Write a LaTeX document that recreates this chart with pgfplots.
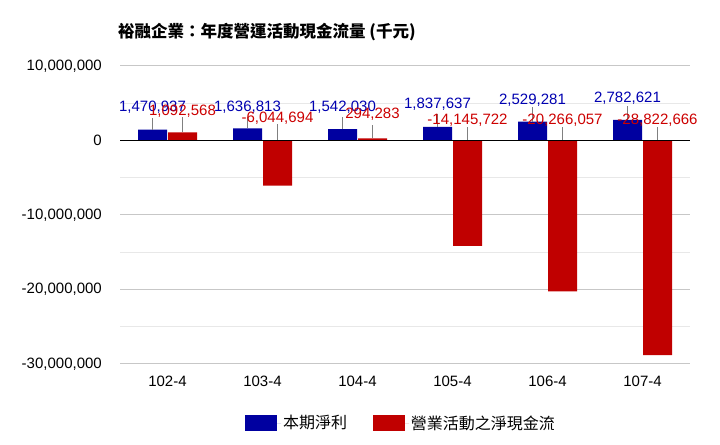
\documentclass[border=0pt]{standalone}
\usepackage{pgfplots}
\pgfplotsset{compat=1.18}
\usepackage{fontspec}
\setmainfont{Liberation Sans}
\newfontfamily\cjk{Noto Sans CJK TC}
\definecolor{barblue}{HTML}{0000A0}
\definecolor{barred}{HTML}{C00000}
\definecolor{lblblue}{HTML}{0000B0}
\definecolor{lblred}{HTML}{CC0000}
\newcommand\lbl{\fontsize{15bp}{18bp}\selectfont}

\begin{document}
\begin{tikzpicture}
\path[use as bounding box] (0,0) rectangle (720bp,445bp);
\begin{axis}[
    at={(120bp,81bp)}, anchor=south west,
    scale only axis, width=570bp, height=298bp,
    xmin=-0.5, xmax=5.5,
    ymin=-30000000, ymax=10000000,
    xtick={0,1,2,3,4,5},
    xticklabels={102-4,103-4,104-4,105-4,106-4,107-4},
    ytick={-30000000,-20000000,-10000000,0,10000000},
    minor ytick={-25000000,-15000000,-5000000,5000000},
    ymajorgrids, yminorgrids,
    major grid style={color=black!22, line width=1bp},
    minor grid style={color=black!9, line width=1bp},
    axis line style={draw=none},
    major tick length=0pt, minor tick length=0pt,
    scaled y ticks=false,
    yticklabel style={/pgf/number format/fixed, /pgf/number format/1000 sep={,},
        /pgf/number format/assume math mode=true},
    ticklabel style={font=\lbl, inner sep=0pt},
    yticklabel style={anchor=east, xshift=-18bp},
    xticklabel style={anchor=base, yshift=-23bp},
    title={\cjk\bfseries\fontsize{16.5bp}{20bp}\selectfont 裕融企業：年度營運活動現金流量 (千元)},
    title style={at={(0,1)}, anchor=west, inner sep=0pt, xshift=-2bp, yshift=28bp},
    legend image code/.code={\fill[#1] (0bp,-8bp) rectangle (32bp,8bp);
        \path (32bp,0bp) -- (36bp,0bp);},
    legend style={at={(0.493,-0.198)}, anchor=center, draw=none, fill=none,
        legend columns=2, font=\cjk\fontsize{16bp}{19bp}\selectfont,
        /tikz/every even column/.append style={column sep=24bp}},
]
\addplot[ybar, bar width=29bp, bar shift=-15bp, fill=barblue, draw=none]
    coordinates {(0,1470937)(1,1636813)(2,1542030)(3,1837637)(4,2529281)(5,2782621)};
\addlegendentry{本期淨利}
\addplot[ybar, bar width=29bp, bar shift=15bp, fill=barred, draw=none]
    coordinates {(0,1092568)(1,-6044694)(2,294283)(3,-14145722)(4,-20266057)(5,-28822666)};
\addlegendentry{營業活動之淨現金流}

% leader lines
\draw[gray] (axis cs:-0.158,1470937) -- (axis cs:-0.158,3000000);
\draw[gray] (axis cs:0.842,1636813) -- (axis cs:0.842,3200000);
\draw[gray] (axis cs:1.842,1542030) -- (axis cs:1.842,3150000);
\draw[gray] (axis cs:2.842,1837637) -- (axis cs:2.842,3600000);
\draw[gray] (axis cs:3.842,2529281) -- (axis cs:3.842,4500000);
\draw[gray] (axis cs:4.842,2782621) -- (axis cs:4.842,4650000);
\draw[gray] (axis cs:0.158,1092568) -- (axis cs:0.158,3150000);
\draw[gray] (axis cs:1.158,0) -- (axis cs:1.158,2200000);
\draw[gray] (axis cs:2.158,294283) -- (axis cs:2.158,2070000);
\draw[gray] (axis cs:3.158,0) -- (axis cs:3.158,1850000);
\draw[gray] (axis cs:4.158,0) -- (axis cs:4.158,1850000);
\draw[gray] (axis cs:5.158,0) -- (axis cs:5.158,1850000);

\draw[black, line width=1.3bp] (axis cs:-0.5,0) -- (axis cs:5.5,0);

% value labels
\addplot[forget plot, draw=none, mark=none, nodes near coords, point meta=explicit symbolic,
    nodes near coords style={anchor=base, inner sep=0pt, text=lblblue, font=\lbl}]
    coordinates {(-0.158,3950000)[1,470,937] (0.842,3950000)[1,636,813]
    (1.842,3950000)[1,542,030] (2.842,4260000)[1,837,637]
    (3.842,4850000)[2,529,281] (4.842,5150000)[2,782,621]};
\addplot[forget plot, draw=none, mark=none, nodes near coords, point meta=explicit symbolic,
    nodes near coords style={anchor=base, inner sep=0pt, text=lblred, font=\lbl}]
    coordinates {(0.158,3370000)[1,092,568] (1.158,2380000)[-6,044,694]
    (2.158,2970000)[294,283] (3.158,2140000)[-14,145,722]
    (4.158,2140000)[-20,266,057] (5.158,2140000)[-28,822,666]};
\end{axis}
\end{tikzpicture}
\end{document}
